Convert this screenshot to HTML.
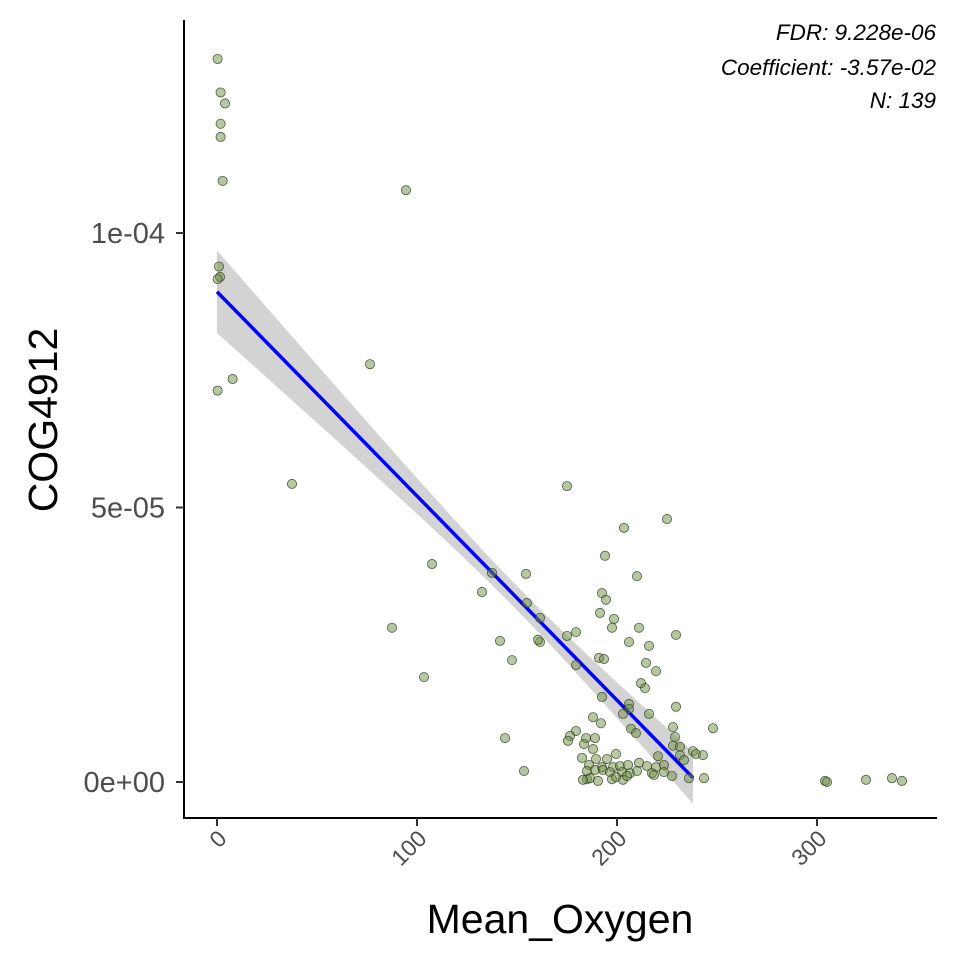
<!DOCTYPE html>
<html><head><meta charset="utf-8"><style>
body{margin:0;background:#fff;width:960px;height:960px;overflow:hidden}
svg{font-family:"Liberation Sans",sans-serif}
</style></head><body>
<svg id="chart" width="960" height="960" viewBox="0 0 960 960" xmlns="http://www.w3.org/2000/svg">
<rect width="960" height="960" fill="#fff"/>
<g id="band"></g><g id="fit"></g><g id="pts"></g><g id="axes"></g>
<text x="936" y="40" text-anchor="end" font-size="22.5" font-style="italic" fill="#000">FDR: 9.228e-06</text>
<text x="936" y="75" text-anchor="end" font-size="22.5" font-style="italic" fill="#000">Coefficient: -3.57e-02</text>
<text x="936" y="108" text-anchor="end" font-size="22.5" font-style="italic" fill="#000">N: 139</text>
<text x="560" y="933" text-anchor="middle" font-size="41" fill="#000">Mean_Oxygen</text>
<text transform="translate(57,420) rotate(-90)" text-anchor="middle" font-size="41" fill="#000">COG4912</text>
</svg>
<script>
const xVals=[0.3,1.8,4,1.8,1.8,2.8,1,1.5,0.3,7.8,0.3,94.5,76.5,37.5,107.5,87.5,103.5,175,225,203.5,194,210,192.5,194.5,191.5,198.5,197.5,211,229.5,179.5,175,161.5,161.5,206,216,191,193.5,179.5,214.5,219.5,212,214,192.5,229.5,206,206,203,216,188,192,228,248,207,209.5,179.5,176.5,175.5,184.5,189,183.5,229,228,188,231.5,238,239.5,243,231.5,233.5,199.5,182.5,195,189.5,220.5,186,192.5,198,201.5,205.5,211,215,219.5,223.5,185,189,193,196.5,202.5,206.5,210,217.5,223.5,227.5,185,186.5,190.5,197.5,199.5,203,205,218.5,236,243.5,183,144,153.5,137.5,132.5,155,141.5,160.5,147.5,154.5,304,305,324.5,337.5,342.5];
const yValsE5=[13.17,12.56,12.36,11.99,11.75,10.95,9.39,9.20,9.16,7.34,7.13,10.78,7.61,5.43,3.97,2.81,1.91,5.39,4.79,4.63,4.12,3.75,3.44,3.32,3.08,2.97,2.81,2.81,2.68,2.73,2.66,2.99,2.55,2.55,2.48,2.26,2.24,2.13,2.17,2.02,1.80,1.71,1.55,1.37,1.42,1.33,1.24,1.24,1.18,1.07,1.00,0.98,0.97,0.89,0.93,0.84,0.75,0.80,0.80,0.69,0.82,0.66,0.60,0.64,0.56,0.51,0.49,0.49,0.40,0.51,0.44,0.42,0.42,0.47,0.31,0.27,0.27,0.29,0.31,0.35,0.29,0.27,0.31,0.20,0.22,0.22,0.18,0.18,0.16,0.20,0.16,0.18,0.11,0.05,0.07,0.02,0.05,0.09,0.04,0.11,0.13,0.07,0.07,0.04,0.80,0.20,3.81,3.46,3.26,2.57,2.59,2.22,3.79,0.02,0,0.04,0.07,0.02];
const fitIntercept=[8.93e-5];
const fitSlope=[-3.72e-7];
const fitRange=[0,238];
const bandCenter=[150];
const bandMin=[0.22e-5];
const bandCurv=[2.3e-15];
const xTicks=[0,100,200,300];
const yTicks=[0,5e-5,1e-4];
const yTickLabels=["0e+00","5e-05","1e-04"];
const NS="http://www.w3.org/2000/svg";
const X=v=>217+2*v;
const Y=v=>782-v*5490000;
function mk(tag,attrs,parent){const e=document.createElementNS(NS,tag);for(const k in attrs)e.setAttribute(k,attrs[k]);parent.appendChild(e);return e;}
const f=x=>fitIntercept[0]+fitSlope[0]*x;
const hw=x=>Math.sqrt(bandMin[0]*bandMin[0]+bandCurv[0]*(x-bandCenter[0])*(x-bandCenter[0]));
let up=[],lo=[];
for(let i=0;i<=60;i++){const x=fitRange[0]+(fitRange[1]-fitRange[0])*i/60;up.push(X(x)+","+Y(f(x)+hw(x)));lo.unshift(X(x)+","+Y(f(x)-hw(x)));}
const band=mk('polygon',{points:up.concat(lo).join(' '),fill:'#d3d3d3'},document.getElementById('band'));


const line=mk('line',{x1:X(fitRange[0]),y1:Y(f(fitRange[0])),x2:X(fitRange[1]),y2:Y(f(fitRange[1])),stroke:'#0000ff','stroke-width':3.5},document.getElementById('fit'));


const pg=document.getElementById('pts');
for(let i=0;i<xVals.length;i++){
 const c=mk('circle',{cx:X(xVals[i]),cy:Y(yValsE5[i]*1e-5),r:4.6,fill:'#6f8f46','fill-opacity':0.5,stroke:'#2a3a1a','stroke-opacity':0.8,'stroke-width':0.8},pg);
 
 
}
const ax=document.getElementById('axes');
const yl=mk('line',{x1:184,y1:20,x2:184,y2:819,stroke:'#000','stroke-width':2},ax);


const xl=mk('line',{x1:183,y1:818,x2:937,y2:818,stroke:'#000','stroke-width':2},ax);


yTicks.forEach((v,i)=>{
 const t=mk('line',{x1:176,y1:Y(v),x2:184,y2:Y(v),stroke:'#333','stroke-width':2},ax);
 
 
 const l=mk('text',{x:165,y:Y(v)+10,'text-anchor':'end','font-size':29,fill:'#4d4d4d'},ax);
 l.textContent=yTickLabels[i];
 
 
});
xTicks.forEach(v=>{
 const t=mk('line',{x1:X(v),y1:818,x2:X(v),y2:826,stroke:'#333','stroke-width':2},ax);
 
 
 const l=mk('text',{x:X(v)+11,y:840,'text-anchor':'end','font-size':23,fill:'#4d4d4d',transform:`rotate(-45 ${X(v)+11} 840)`},ax);
 l.textContent=String(v);
 
 
});
</script>
</body></html>
